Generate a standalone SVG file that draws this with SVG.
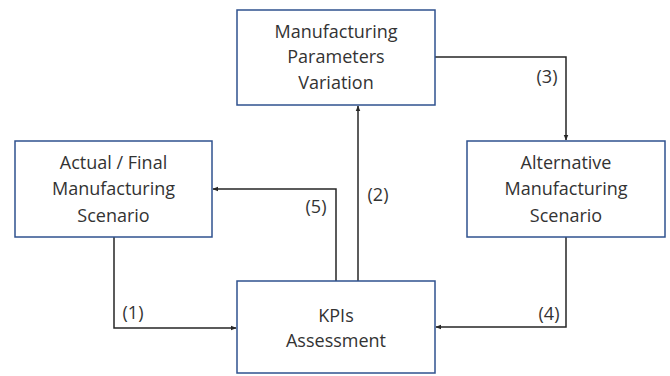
<svg xmlns="http://www.w3.org/2000/svg" width="670" height="376" viewBox="0 0 670 376">
  <style>
    .box { fill: #ffffff; stroke: #2f528f; stroke-width: 1.5; }
    .lbl { font-family: "Open Sans", "Liberation Sans", sans-serif; font-size: 18px; fill: #333333; text-anchor: middle; }
    .num { font-family: "Open Sans", "Liberation Sans", sans-serif; font-size: 18px; fill: #333333; text-anchor: middle; }
    .wire { fill: none; stroke: #262626; stroke-width: 1.5; marker-end: url(#arrow); }
  </style>
  <defs>
    <marker id="arrow" viewBox="0 0 10 10" refX="9" refY="5" markerWidth="6" markerHeight="6" markerUnits="userSpaceOnUse" orient="auto">
      <path d="M0,1 L10,5 L0,9 z" fill="#262626"/>
    </marker>
  </defs>
  <rect width="670" height="376" fill="#ffffff"/>

  <g id="connectors">
    <!-- (1) Actual scenario to KPIs -->
    <path class="wire" d="M114,237 V328 H236"/>
    <text class="num" x="133" y="319">(1)</text>
    <!-- (2) KPIs to parameters variation -->
    <path class="wire" d="M358,281 V106"/>
    <text class="num" x="378" y="201">(2)</text>
    <!-- (3) parameters variation to alternative scenario -->
    <path class="wire" d="M435,57 H566 V140"/>
    <text class="num" x="547" y="83">(3)</text>
    <!-- (4) alternative scenario to KPIs -->
    <path class="wire" d="M566,237 V327 H436"/>
    <text class="num" x="549" y="320">(4)</text>
    <!-- (5) KPIs back to actual scenario -->
    <path class="wire" d="M336,281 V189 H213"/>
    <text class="num" x="316" y="213">(5)</text>
  </g>

  <g id="node-parameters">
    <rect class="box" x="237" y="10" width="198" height="95"/>
    <text class="lbl" x="336" y="38">Manufacturing</text>
    <text class="lbl" x="336" y="63">Parameters</text>
    <text class="lbl" x="336" y="89">Variation</text>
  </g>

  <g id="node-actual">
    <rect class="box" x="15" y="141" width="197" height="96"/>
    <text class="lbl" x="113.5" y="169">Actual / Final</text>
    <text class="lbl" x="113.5" y="195">Manufacturing</text>
    <text class="lbl" x="113.5" y="222">Scenario</text>
  </g>

  <g id="node-alternative">
    <rect class="box" x="467" y="141" width="198" height="96"/>
    <text class="lbl" x="566" y="169">Alternative</text>
    <text class="lbl" x="566" y="195">Manufacturing</text>
    <text class="lbl" x="566" y="222">Scenario</text>
  </g>

  <g id="node-kpis">
    <rect class="box" x="237" y="281" width="198" height="92"/>
    <text class="lbl" x="336" y="322">KPIs</text>
    <text class="lbl" x="336" y="347">Assessment</text>
  </g>
</svg>
